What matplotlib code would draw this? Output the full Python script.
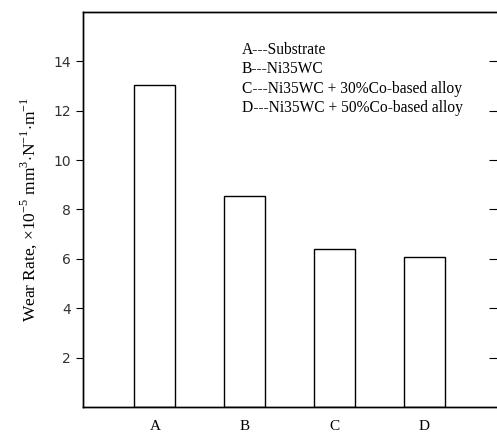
import matplotlib
matplotlib.use('Agg')
import matplotlib.pyplot as plt

# --- datos ---
categorias = ['A', 'B', 'C', 'D']
wear_rate = [13.04, 8.54, 6.38, 6.09]
leyenda = ['A---Substrate',
           'B---Ni35WC',
           'C---Ni35WC + 30%Co-based alloy',
           'D---Ni35WC + 50%Co-based alloy']
yticks = [2, 4, 6, 8, 10, 12, 14]

plt.rcParams['font.family'] = ['Liberation Serif', 'DejaVu Serif']
plt.rcParams['mathtext.fontset'] = 'custom'
plt.rcParams['mathtext.rm'] = 'Liberation Serif'

fig = plt.figure(figsize=(4.97, 4.36), dpi=100)
ax = fig.add_axes([83 / 497, 1 - 407 / 436, 414 / 497, 395 / 436])

x = list(range(len(categorias)))
ax.bar(x, wear_rate, width=0.46, color='white', edgecolor='black', linewidth=1.0)

ax.set_xlim(-0.8, 3.81)
ax.set_ylim(0, 16)
ax.set_xticks(x)
ax.set_xticklabels(categorias, fontsize=11)
ax.tick_params(axis='x', length=0, pad=9.5)
ax.set_yticks(yticks)
ax.set_yticklabels([str(v) for v in yticks], fontfamily='DejaVu Sans', fontsize=10, color='#333333')
ax.tick_params(axis='y', direction='out', length=5, width=0.8, right=False)
# ticks a la derecha hacia dentro (el eje derecho queda cortado)
ax2 = ax.twinx()
ax2.set_ylim(0, 16)
ax2.set_yticks(yticks)
ax2.set_yticklabels([])
ax2.tick_params(axis='y', direction='in', length=6, width=0.8)
for a in (ax, ax2):
    a.spines['right'].set_visible(False)
    for s in ('left', 'bottom', 'top'):
        a.spines[s].set_linewidth(1.0)

ax.set_ylabel(r'Wear Rate, $\times$10$^{-5}$ mm$^{3}$$\cdot$N$^{-1}$$\cdot$m$^{-1}$',
              fontsize=12.5, labelpad=10)

for i, t in enumerate(leyenda):
    ax.text(0.384, 0.904 - i * 0.049, t, transform=ax.transAxes, fontsize=11.2,
            va='center', ha='left')

fig.savefig('out.png', dpi=100)
